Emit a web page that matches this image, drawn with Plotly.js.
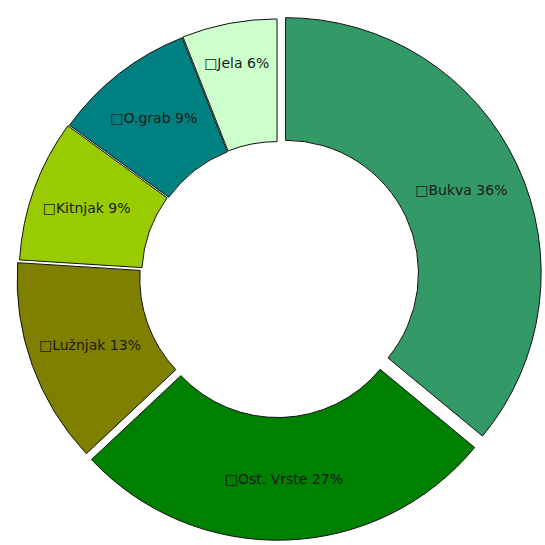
<!DOCTYPE html>
<html>
<head>
<meta charset="utf-8">
<script src="https://cdn.plot.ly/plotly-3.0.1.min.js"></script>
<style>html,body{margin:0;padding:0;background:#fff;}#chart{width:545px;height:545px;}</style>
</head>
<body>
<div id="chart"></div>
<script>
const labels = ["Bukva", "Ost. Vrste", "Lužnjak", "Kitnjak", "O.grab", "Jela"];
const values = [36, 27, 13, 9, 9, 6];
const colors = ["#339966", "#008000", "#808000", "#99CC00", "#008080", "#CCFFCC"];
const pulls = [0.035, 0.03, 0.02, 0.012, 0.008, 0.01];

Plotly.newPlot('chart', [{
  type: 'pie',
  labels: labels,
  values: values,
  sort: false,
  direction: 'clockwise',
  rotation: 0,
  hole: 0.52,
  pull: pulls,
  marker: {colors: colors, line: {color: '#111', width: 1}},
  texttemplate: '\u25A1%{label} %{value}%',
  textposition: 'inside',
  insidetextorientation: 'horizontal',
  textfont: {family: 'DejaVu Sans, Verdana, sans-serif', size: 14, color: '#1a1a1a'},
  hoverinfo: 'none',
  domain: {x: [0, 1], y: [0, 1]}
}], {
  width: 545, height: 545,
  margin: {l: 13, r: 3, t: 9, b: 0},
  paper_bgcolor: '#fff',
  showlegend: false,
  uniformtext: {minsize: 14, mode: 'show'}
}, {displayModeBar: false, staticPlot: true});
</script>
</body>
</html>
